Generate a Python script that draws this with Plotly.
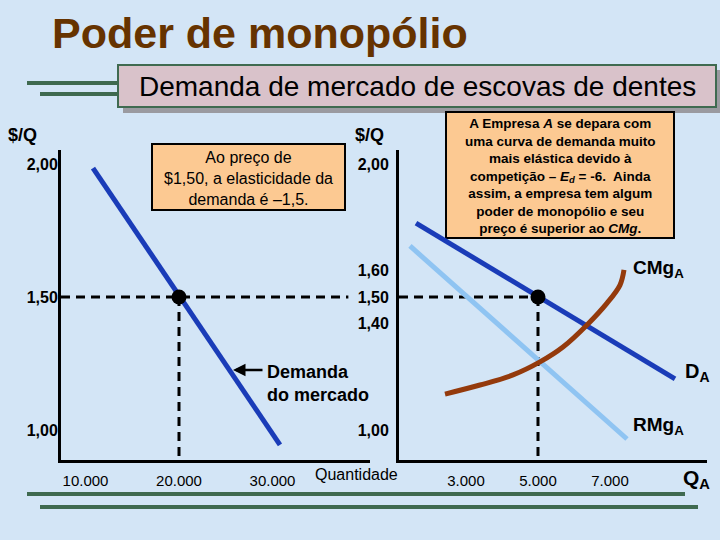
import plotly.graph_objects as go

# ---------------- data ----------------
# Left panel: market demand for toothbrushes
market_q = [10800, 30800]
market_p = [1.985, 0.944]
market_eq_q = 20000
eq_price = 1.50
left_xticks = [10000, 20000, 30000]
left_xticklabels = ["10.000", "20.000", "30.000"]
left_yticks = [2.00, 1.50, 1.00]
left_yticklabels = ["2,00", "1,50", "1,00"]

# Right panel: firm A
firm_d_q = [1611, 8806]
firm_d_p = [1.778, 1.192]
firm_rmg_q = [1444, 7472]
firm_rmg_p = [1.692, 0.966]
firm_cmg_q = [2417, 3389, 4306, 5056, 5694, 6361, 6917, 7278, 7389]
firm_cmg_p = [1.135, 1.169, 1.207, 1.256, 1.312, 1.395, 1.477, 1.545, 1.602]
firm_eq_q = 5000
right_xticks = [3000, 5000, 7000]
right_xticklabels = ["3.000", "5.000", "7.000"]
right_yticks = [2.00, 1.60, 1.50, 1.40, 1.00]
right_yticklabels = ["2,00", "1,60", "1,50", "1,40", "1,00"]

# ---------------- styling ----------------
W, H = 720, 540
FONT = "Liberation Sans, Arial, sans-serif"
BG = "#d3e5f6"
DARK_BLUE = "#1a3cb8"
LIGHT_BLUE = "#8fc4f2"
BROWN = "#943a0c"
GREEN = "#3f6a50"
BOX = "#fcc992"

def px(x):
    return x / W

def py(y):
    return 1 - y / H

Y_RANGE = [0.887, 2.053]
LX_RANGE = [7380, 40427]
RX_RANGE = [1139, 9695]

fig = go.Figure()

# ---- left panel traces ----
dash_end_left = LX_RANGE[0] + (LX_RANGE[1] - LX_RANGE[0]) * 0.93
fig.add_trace(go.Scatter(x=[LX_RANGE[0], dash_end_left], y=[eq_price, eq_price], mode="lines",
                         line=dict(color="black", width=3, dash="9px,6px"), xaxis="x", yaxis="y"))
fig.add_trace(go.Scatter(x=[market_eq_q, market_eq_q], y=[eq_price, Y_RANGE[0]], mode="lines",
                         line=dict(color="black", width=3, dash="9px,6px"), xaxis="x", yaxis="y"))
fig.add_trace(go.Scatter(x=market_q, y=market_p, mode="lines",
                         line=dict(color=DARK_BLUE, width=5), xaxis="x", yaxis="y"))
fig.add_trace(go.Scatter(x=[market_eq_q], y=[eq_price], mode="markers",
                         marker=dict(color="black", size=15), xaxis="x", yaxis="y"))

# ---- right panel traces ----
fig.add_trace(go.Scatter(x=[RX_RANGE[0], firm_eq_q], y=[eq_price, eq_price], mode="lines",
                         line=dict(color="black", width=3, dash="9px,6px"), xaxis="x2", yaxis="y2"))
fig.add_trace(go.Scatter(x=[firm_eq_q, firm_eq_q], y=[eq_price, Y_RANGE[0]], mode="lines",
                         line=dict(color="black", width=3, dash="9px,6px"), xaxis="x2", yaxis="y2"))
fig.add_trace(go.Scatter(x=firm_rmg_q, y=firm_rmg_p, mode="lines",
                         line=dict(color=LIGHT_BLUE, width=5), xaxis="x2", yaxis="y2"))
fig.add_trace(go.Scatter(x=firm_d_q, y=firm_d_p, mode="lines",
                         line=dict(color=DARK_BLUE, width=5), xaxis="x2", yaxis="y2"))
fig.add_trace(go.Scatter(x=firm_cmg_q, y=firm_cmg_p, mode="lines",
                         line=dict(color=BROWN, width=5, shape="spline"), xaxis="x2", yaxis="y2"))
fig.add_trace(go.Scatter(x=[firm_eq_q], y=[eq_price], mode="markers",
                         marker=dict(color="black", size=15), xaxis="x2", yaxis="y2"))

axis_common = dict(showgrid=False, zeroline=False, showline=True, linecolor="black", linewidth=3,
                   ticks="", fixedrange=True)
ydom = [py(460), py(150)]

fig.update_layout(
    width=W, height=H, margin=dict(l=0, r=0, t=0, b=0),
    paper_bgcolor=BG, plot_bgcolor="rgba(0,0,0,0)", showlegend=False,
    font=dict(family=FONT, color="black"),
    xaxis=dict(axis_common, domain=[px(61), px(370)], range=LX_RANGE, anchor="y",
               tickvals=left_xticks, ticktext=left_xticklabels, ticklabelstandoff=5,
               tickfont=dict(size=15, family=FONT)),
    yaxis=dict(axis_common, domain=ydom, range=Y_RANGE, anchor="x",
               tickvals=left_yticks, ticktext=left_yticklabels, ticklabelstandoff=-3,
               tickfont=dict(size=16, family=FONT, weight="bold")),
    xaxis2=dict(axis_common, domain=[px(399), px(707)], range=RX_RANGE, anchor="y2",
                tickvals=right_xticks, ticktext=right_xticklabels, ticklabelstandoff=5,
                tickfont=dict(size=15, family=FONT)),
    yaxis2=dict(axis_common, domain=ydom, range=Y_RANGE, anchor="x2",
                tickvals=right_yticks, ticktext=right_yticklabels, ticklabelstandoff=4,
                tickfont=dict(size=16, family=FONT, weight="bold")),
)

shapes = []
# subtitle box with shadow
shapes.append(dict(type="rect", xref="paper", yref="paper", x0=px(123), x1=px(721), y0=py(113), y1=py(70),
                   fillcolor="#9a9aa0", line=dict(width=0), layer="below"))
shapes.append(dict(type="rect", xref="paper", yref="paper", x0=px(118), x1=px(716), y0=py(107), y1=py(65),
                   fillcolor="#d9c2ca", line=dict(color=GREEN, width=2), layer="below"))
# decorative green lines
for x0, x1, y in [(27, 117, 83), (40, 117, 94), (27, 685, 494), (40, 698, 507)]:
    shapes.append(dict(type="line", xref="paper", yref="paper", x0=px(x0), x1=px(x1), y0=py(y), y1=py(y),
                       line=dict(color=GREEN, width=4)))
# annotation boxes
shapes.append(dict(type="rect", xref="paper", yref="paper", x0=px(152), x1=px(345), y0=py(210), y1=py(144),
                   fillcolor=BOX, line=dict(color="black", width=2), layer="below"))
shapes.append(dict(type="rect", xref="paper", yref="paper", x0=px(446), x1=px(674), y0=py(238), y1=py(112),
                   fillcolor=BOX, line=dict(color="black", width=2), layer="below"))
fig.update_layout(shapes=shapes)

def txt(x, y, text, size, bold=False, color="black", xanchor="center", align="center"):
    fig.add_annotation(xref="paper", yref="paper", x=px(x), y=py(y), text=text, showarrow=False,
                       xanchor=xanchor, yanchor="middle", align=align,
                       font=dict(size=size, color=color, family=FONT, weight="bold" if bold else "normal"))

txt(50, 33, "Poder de monopólio", 43, bold=True, color="#663300", xanchor="left")
txt(417, 87, "Demanda de mercado de escovas de dentes", 28)
txt(6, 135, "$/Q", 18, bold=True, xanchor="left")
txt(353, 135, "$/Q", 18, bold=True, xanchor="left")
txt(248.5, 178, "Ao preço de<br>$1,50, a elasticidade da<br>demanda é –1,5.", 16)
txt(560, 176, "A Empresa <i>A</i> se depara com<br>uma curva de demanda muito<br>mais elástica devido à<br>"
              "competição – <i>E<sub>d</sub></i> = -6.  Ainda<br>assim, a empresa tem algum<br>"
              "poder de monopólio e seu<br>preço é superior ao <i>CMg</i>.", 13.5, bold=True)
txt(265, 383, "Demanda<br>do mercado", 18, bold=True, xanchor="left", align="left")
txt(313, 474, "Quantidade", 16, xanchor="left")
txt(631, 269, "CMg<sub>A</sub>", 19, bold=True, xanchor="left")
txt(683, 372, "D<sub>A</sub>", 20, bold=True, xanchor="left")
txt(631, 426, "RMg<sub>A</sub>", 19, bold=True, xanchor="left")
txt(681, 479, "Q<sub>A</sub>", 21, bold=True, xanchor="left")

fig.add_annotation(xref="paper", yref="paper", x=px(233), y=py(370), text="", showarrow=True,
                   ax=31, ay=0, arrowhead=2, arrowsize=1, arrowwidth=2.5, arrowcolor="black")

fig.write_html("out.html", config={"displayModeBar": False})

# remove the default page margin so the 720x540 figure fills the window exactly
with open("out.html", "r", encoding="utf-8") as f:
    html = f.read()
html = html.replace("<head>", "<head><style>html,body{margin:0;padding:0;overflow:hidden;}</style>", 1)
with open("out.html", "w", encoding="utf-8") as f:
    f.write(html)
